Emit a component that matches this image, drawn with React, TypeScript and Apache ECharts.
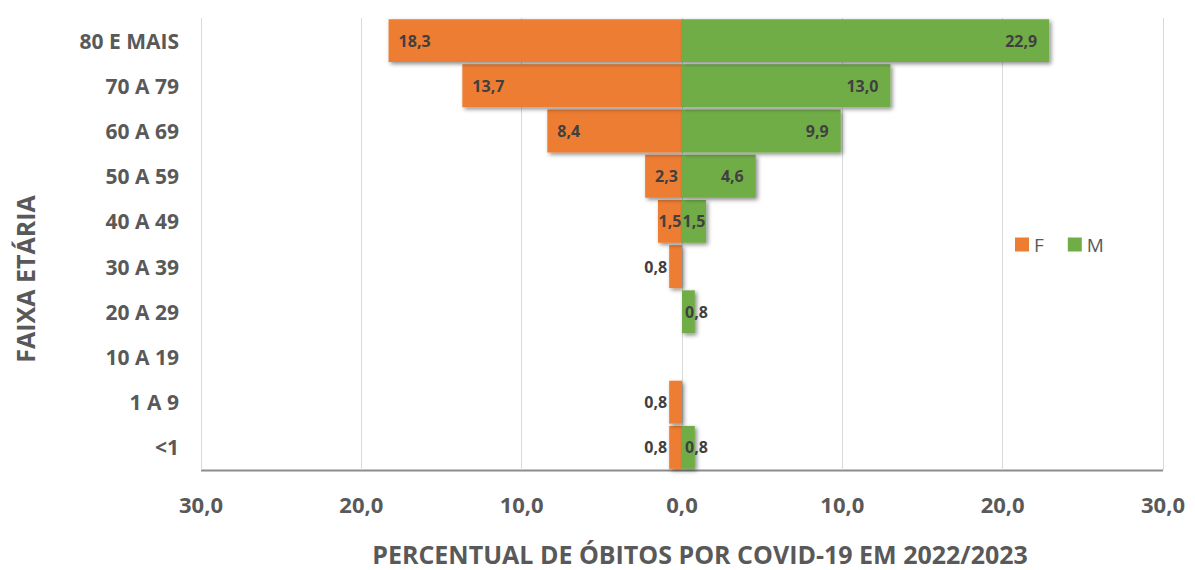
import React, { useEffect, useRef } from "react";
import * as echarts from "echarts";

const categories = ["<1", "1 A 9", "10 A 19", "20 A 29", "30 A 39", "40 A 49", "50 A 59", "60 A 69", "70 A 79", "80 E MAIS"];
const femaleValues = [0.8, 0.8, 0, 0, 0.8, 1.5, 2.3, 8.4, 13.7, 18.3];
const maleValues = [0.8, 0, 0, 0.8, 0, 1.5, 4.6, 9.9, 13.0, 22.9];
const xTicks = [-30, -20, -10, 0, 10, 20, 30];

const fmt = (v: number) => Math.abs(v).toFixed(1).replace(".", ",");
const FONT = "'Open Sans', sans-serif";
const GRAY = "#595959";

export default function App() {
  const ref = useRef<HTMLDivElement>(null);
  useEffect(() => {
    if (!ref.current) return;
    const chart = echarts.init(ref.current, undefined, { renderer: "svg" });
    const shadow = { shadowBlur: 4, shadowColor: "rgba(0,0,0,0.45)", shadowOffsetX: 2, shadowOffsetY: 2 };
    const labelBase = { show: true, color: "#404040", fontWeight: "bold" as const, fontSize: 16, fontFamily: FONT };
    const fData = femaleValues.map((v) => {
      let label: any;
      if (v === 0) label = { show: false };
      else if (v < 1) label = { position: "left", distance: 2 };
      else if (v < 2) label = { position: "inside" };
      else label = { position: "insideLeft", distance: 10 };
      return { value: -v, label };
    });
    const mData = maleValues.map((v) => {
      let label: any;
      if (v === 0) label = { show: false };
      else if (v < 1) label = { position: "insideLeft", distance: 3 };
      else if (v < 2) label = { position: "inside" };
      else label = { position: "insideRight", distance: 12 };
      return { value: v, label };
    });
    chart.setOption({
      animation: false,
      grid: { left: 201, right: 32, top: 18, bottom: 100 },
      legend: {
        data: ["F", "M"],
        left: 1010,
        top: 230,
        icon: "rect",
        itemWidth: 14,
        itemHeight: 14,
        itemGap: 24,
        textStyle: { color: GRAY, fontSize: 19, fontFamily: FONT },
      },
      xAxis: {
        type: "value",
        min: -30,
        max: 30,
        interval: 10,
        axisLine: { show: false },
        axisTick: { show: false },
        splitLine: { show: true, lineStyle: { color: "#d9d9d9", width: 1 } },
        axisLabel: {
          margin: 23,
          color: GRAY,
          fontSize: 22,
          fontWeight: "bold",
          fontFamily: FONT,
          formatter: (v: number) => (xTicks.includes(v) ? fmt(v) : ""),
        },
      },
      yAxis: {
        type: "category",
        data: categories,
        axisLine: { show: false },
        axisTick: { show: false },
        axisLabel: { margin: 22, color: GRAY, fontSize: 21, fontWeight: "bold", fontFamily: FONT },
      },
      graphic: [
        { type: "line", shape: { x1: 201, y1: 470.5, x2: 1163, y2: 470.5 }, style: { stroke: "#8c8c8c", lineWidth: 2 } },
        {
          type: "text",
          x: 700,
          y: 554,
          style: {
            text: "PERCENTUAL DE ÓBITOS POR COVID-19 EM 2022/2023",
            fill: GRAY,
            font: `bold 25px ${FONT}`,
            align: "center",
            verticalAlign: "middle",
          },
        },
        {
          type: "text",
          x: 25,
          y: 279,
          rotation: Math.PI / 2,
          style: {
            text: "FAIXA ETÁRIA",
            fill: GRAY,
            font: `bold 25px ${FONT}`,
            align: "center",
            verticalAlign: "middle",
          },
        },
      ],
      series: [
        {
          name: "F",
          type: "bar",
          data: fData,
          barCategoryGap: "5%",
          barGap: "-100%",
          itemStyle: { color: "#ED7D31", ...shadow },
          label: { ...labelBase, formatter: (p: any) => fmt(p.value) },
        },
        {
          name: "M",
          type: "bar",
          data: mData,
          barCategoryGap: "5%",
          barGap: "-100%",
          itemStyle: { color: "#70AD47", ...shadow },
          label: { ...labelBase, formatter: (p: any) => fmt(p.value) },
        },
      ],
    });
    return () => chart.dispose();
  }, []);
  return <div ref={ref} style={{ position: "absolute", left: 0, top: 0, width: 1195, height: 570 }} />;
}
